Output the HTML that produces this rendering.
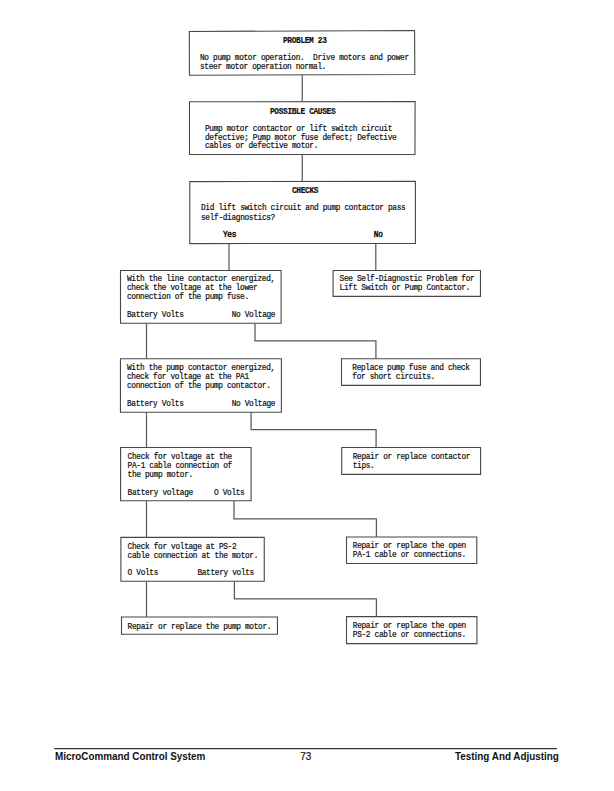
<!DOCTYPE html><html><head><meta charset="utf-8"><style>
html,body{margin:0;padding:0;background:#fff;}
body{width:614px;height:791px;position:relative;overflow:hidden;}
svg{position:absolute;left:0;top:0;}
.t{position:absolute;font-family:"Liberation Mono",monospace;font-size:7.8px;letter-spacing:-0.330px;line-height:10px;white-space:pre;color:#111;-webkit-text-stroke:0.2px #111;transform:scaleY(1.08);transform-origin:0 0;}
.tb{font-weight:bold;-webkit-text-stroke:0.2px #111;}
.tm{-webkit-text-stroke:0.45px #111;}
.f{position:absolute;font-family:"Liberation Sans",sans-serif;font-size:9.9px;line-height:12px;white-space:pre;color:#111;transform:scaleY(1.08);transform-origin:0 0;}
</style></head><body>
<svg width="614" height="791" viewBox="0 0 614 791"><g fill="none" stroke="#474747" stroke-width="1.1" stroke-linejoin="miter"><polygon points="189.3,31.45 414.6,30.5 414.8,74.45 189.45,75.3"/><polygon points="189.45,101.8 415.1,101.45 414.95,154.45 189.5,154.5"/><polygon points="189.8,181.6 415.4,181.4 415.4,243.45 189.8,243.6"/><polygon points="120.5,270.5 281.1,270.5 281.1,323.3 120.5,323.3"/><polygon points="333.1,270.5 480.45,270.5 480.45,296.35 333.1,296.35"/><polygon points="120.45,358.8 281.4,358.8 281.4,412.25 120.45,412.25"/><polygon points="341.5,358.8 480.45,358.8 480.45,385.4 341.5,385.4"/><polygon points="120.6,447.45 251.1,447.45 251.1,500.8 120.6,500.8"/><polygon points="341.75,447.45 480.6,447.45 480.6,474.4 341.75,474.4"/><polygon points="120.9,537.4 264.25,537.4 264.25,581.25 120.9,581.25"/><polygon points="346.5,536.95 476.8,536.95 476.8,563.45 346.5,563.45"/><polygon points="121.5,616.95 277.45,616.95 277.45,634.25 121.5,634.25"/><polygon points="346.5,616.6 476.95,616.6 476.95,643.6 346.5,643.6"/></g><g fill="none" stroke="#5a5a5a" stroke-width="1.25" stroke-linejoin="miter"><polyline points="302.25,74.9 302.25,101.6"/><polyline points="302.3,154.5 302.3,181.5"/><polyline points="229.0,243.5 229.0,270.5"/><polyline points="375.8,243.4 375.8,270.5"/><polyline points="146.5,323.3 146.5,358.8"/><polyline points="255.0,323.3 255.0,340.9 375.9,340.9 375.9,358.8"/><polyline points="146.5,412.25 146.5,447.45"/><polyline points="251.1,412.25 251.1,429.7 376.1,429.7 376.1,447.45"/><polyline points="146.5,500.8 146.5,537.4"/><polyline points="234.0,500.8 234.0,518.9 376.4,518.9 376.4,536.95"/><polyline points="146.5,581.25 146.5,616.95"/><polyline points="234.4,581.25 234.4,598.85 376.4,598.85 376.4,616.6"/></g><line x1="54.4" y1="748.6" x2="557" y2="748.6" stroke="#333" stroke-width="1.2"/></svg>
<div class="t tb" style="left:283.00px;top:35px">PROBLEM 23</div>
<div class="t" style="left:200.00px;top:52px">No pump motor operation.  Drive motors and power</div>
<div class="t" style="left:200.00px;top:61px">steer motor operation normal.</div>
<div class="t tb" style="left:270.00px;top:106px">POSSIBLE CAUSES</div>
<div class="t" style="left:205.00px;top:123px">Pump motor contactor or lift switch circuit</div>
<div class="t" style="left:205.00px;top:132px">defective; Pump motor fuse defect; Defective</div>
<div class="t" style="left:205.00px;top:140px">cables or defective motor.</div>
<div class="t tb" style="left:292.00px;top:185px">CHECKS</div>
<div class="t" style="left:201.00px;top:202px">Did lift switch circuit and pump contactor pass</div>
<div class="t" style="left:201.00px;top:212px">self-diagnostics?</div>
<div class="t tm" style="left:223.00px;top:229px">Yes</div>
<div class="t tm" style="left:373.80px;top:229px">No</div>
<div class="t" style="left:127.00px;top:273px">With the line contactor energized,</div>
<div class="t" style="left:127.00px;top:282px">check the voltage at the lower</div>
<div class="t" style="left:127.00px;top:291px">connection of the pump fuse.</div>
<div class="t" style="left:127.00px;top:309px">Battery Volts</div>
<div class="t" style="left:231.70px;top:309px">No Voltage</div>
<div class="t" style="left:339.60px;top:273px">See Self-Diagnostic Problem for</div>
<div class="t" style="left:339.60px;top:282px">Lift Switch or Pump Contactor.</div>
<div class="t" style="left:127.00px;top:362px">With the pump contactor energized,</div>
<div class="t" style="left:127.00px;top:371px">check for voltage at the PA1</div>
<div class="t" style="left:127.00px;top:380px">connection of the pump contactor.</div>
<div class="t" style="left:127.00px;top:398px">Battery Volts</div>
<div class="t" style="left:231.70px;top:398px">No Voltage</div>
<div class="t" style="left:352.30px;top:362px">Replace pump fuse and check</div>
<div class="t" style="left:352.30px;top:371px">for short circuits.</div>
<div class="t" style="left:127.60px;top:451px">Check for voltage at the</div>
<div class="t" style="left:127.60px;top:460px">PA-1 cable connection of</div>
<div class="t" style="left:127.60px;top:469px">the pump motor.</div>
<div class="t" style="left:127.60px;top:487px">Battery voltage</div>
<div class="t" style="left:214.00px;top:487px">O Volts</div>
<div class="t" style="left:352.70px;top:451px">Repair or replace contactor</div>
<div class="t" style="left:352.70px;top:460px">tips.</div>
<div class="t" style="left:127.60px;top:541px">Check for voltage at PS-2</div>
<div class="t" style="left:127.60px;top:550px">cable connection at the motor.</div>
<div class="t" style="left:127.60px;top:567px">O Volts</div>
<div class="t" style="left:197.40px;top:567px">Battery volts</div>
<div class="t" style="left:352.80px;top:540px">Repair or replace the open</div>
<div class="t" style="left:352.80px;top:549px">PA-1 cable or connections.</div>
<div class="t" style="left:127.60px;top:621px">Repair or replace the pump motor.</div>
<div class="t" style="left:352.80px;top:620px">Repair or replace the open</div>
<div class="t" style="left:352.80px;top:629px">PS-2 cable or connections.</div>
<div class="f" style="left:55px;top:749.5px;font-weight:bold">MicroCommand Control System</div>
<div class="f" style="left:300.3px;top:749.5px;-webkit-text-stroke:0.2px #111">73</div>
<div class="f" style="left:455px;top:749.5px;font-weight:bold">Testing And Adjusting</div>
</body></html>
